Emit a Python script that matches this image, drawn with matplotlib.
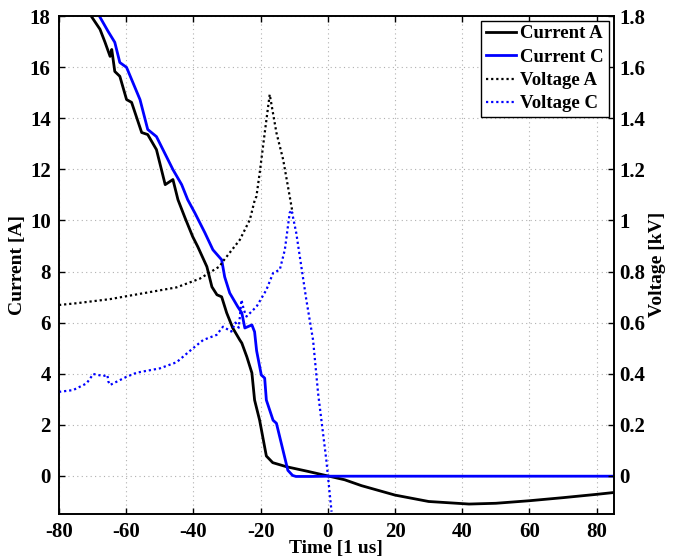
import matplotlib
matplotlib.use("Agg")
import matplotlib.pyplot as plt

plt.rcParams['font.family'] = ['Liberation Serif', 'DejaVu Serif']
plt.rcParams['font.weight'] = 'bold'
plt.rcParams['axes.labelweight'] = 'bold'
plt.rcParams['axes.unicode_minus'] = False

# Current A [A]
ca_t = [-73.0, -70.8, -67.8, -66.3, -64.8, -64.3, -63.4, -61.9, -59.9, -58.4, -55.4, -53.6,
        -51.0, -48.4, -46.1, -44.6, -42.5, -40.2, -38.7, -36.0, -34.5, -33.0, -31.6, -30.1,
        -28.3, -26.2, -25.6, -24.1, -22.6, -21.8, -20.3, -18.3, -16.4, -12.3, -6.0, 0.0,
        5.0, 10.0, 20.0, 30.0, 42.0, 50.0, 60.0, 70.0, 80.0, 85.0]
ca_v = [18.6, 18.07, 17.48, 16.97, 16.42, 16.69, 15.83, 15.64, 14.73, 14.62, 13.44, 13.36,
        12.77, 11.40, 11.60, 10.81, 10.1, 9.36, 8.97, 8.19, 7.40, 7.09, 7.01, 6.38,
        5.79, 5.32, 5.20, 4.66, 4.03, 2.97, 2.18, 0.78, 0.52, 0.36, 0.18, 0.0,
        -0.15, -0.38, -0.75, -1.0, -1.1, -1.07, -0.97, -0.85, -0.72, -0.65]

# Current C [A]
cc_t = [-70.0, -68.3, -65.4, -63.4, -61.9, -59.9, -55.9, -53.6, -51.0, -46.1, -43.5, -41.7,
        -39.6, -36.6, -34.2, -31.6, -30.7, -29.2, -26.8, -25.6, -24.7, -22.6, -21.8, -21.2,
        -19.8, -18.8, -18.3, -16.3, -15.3, -11.9, -10.5, -9.5, -5.0, 0.0, 20.0, 40.0, 60.0, 85.0]
cc_v = [18.6, 18.07, 17.40, 16.97, 16.18, 15.99, 14.73, 13.56, 13.28, 11.99, 11.40, 10.81,
        10.30, 9.52, 8.85, 8.46, 7.79, 7.16, 6.62, 6.38, 5.79, 5.91, 5.64, 4.90,
        3.95, 3.83, 2.97, 2.18, 2.06, 0.22, 0.02, -0.02, -0.02, -0.01, -0.01, -0.01, -0.01, -0.01]

# Voltage A [kV]
va_t = [-80.0, -74.7, -64.8, -54.9, -45.0, -38.1, -32.2, -31.2, -26.2, -23.2, -21.75, -21.25,
        -20.27, -18.78, -17.3, -15.3, -13.3, -11.35, -10.5]
va_v = [0.669, 0.676, 0.692, 0.715, 0.738, 0.772, 0.82, 0.84, 0.924, 1.003, 1.08, 1.094,
        1.187, 1.343, 1.493, 1.343, 1.238, 1.094, 1.03]

# Voltage C [kV]
vc_t = [-80.0, -75.8, -71.8, -69.8, -66.8, -65.6, -65.3, -64.8, -59.9, -56.9, -50.0, -45.0,
        -40.1, -37.1, -33.1, -31.2, -28.7, -27.5, -26.5, -25.7, -25.0, -24.2, -21.2, -18.3,
        -16.3, -14.3, -12.8, -11.35, -10.8, -9.4, -6.4, -4.4, -2.9, -0.45, 1.1]
vc_v = [0.329, 0.336, 0.362, 0.399, 0.391, 0.395, 0.369, 0.356, 0.388, 0.404, 0.421, 0.445,
        0.500, 0.532, 0.552, 0.584, 0.565, 0.60, 0.58, 0.689, 0.65, 0.624, 0.663, 0.728,
        0.794, 0.807, 0.885, 1.03, 1.04, 0.951, 0.689, 0.532, 0.323, 0.062, -0.14]

x_ticks = [-80, -60, -40, -20, 0, 20, 40, 60, 80]
yl_ticks = [0, 2, 4, 6, 8, 10, 12, 14, 16, 18]
yr_ticks = [0, 0.2, 0.4, 0.6, 0.8, 1.0, 1.2, 1.4, 1.6, 1.8]
yr_labels = ['0', '0.2', '0.4', '0.6', '0.8', '1', '1.2', '1.4', '1.6', '1.8']

fig = plt.figure(figsize=(6.81, 5.57), dpi=100)
ax = fig.add_axes([59 / 681, 1 - 513.5 / 557, 554.5 / 681, 497.5 / 557])
ax2 = ax.twinx()

l1, = ax.plot(ca_t, ca_v, color='black', lw=2.0)
l2, = ax.plot(cc_t, cc_v, color='#0000ff', lw=2.0)
l3, = ax2.plot(va_t, va_v, color='black', lw=1.6, linestyle=(0, (1, 1.3)))
l4, = ax2.plot(vc_t, vc_v, color='#0000ff', lw=1.6, linestyle=(0, (1, 1.3)))

ax.set_xlim(-80, 85)
ax.set_ylim(-1.47, 18)
ax2.set_ylim(-0.147, 1.8)

ax.set_xticks(x_ticks)
ax.set_yticks(yl_ticks)
ax2.set_yticks(yr_ticks)
ax2.set_yticklabels(yr_labels)

ax.grid(True, color='#b0b0b0', linestyle=(0, (1, 3)), lw=0.8)

for a in (ax, ax2):
    for s in a.spines.values():
        s.set_linewidth(1.2)
ax.tick_params(direction='in', length=4, width=1, labelsize=15, top=True, right=False, pad=6)
ax2.tick_params(direction='in', length=4, width=1, labelsize=15, pad=4)

ax.set_xlabel('Time [1 us]', fontsize=14, labelpad=-1)
ax.set_ylabel('Current [A]', fontsize=14, labelpad=3)
ax2.set_ylabel('Voltage [kV]', fontsize=14, labelpad=3)

leg = ax2.legend([l1, l2, l3, l4], ['Current A', 'Current C', 'Voltage A', 'Voltage C'],
                 loc='upper right', fontsize=13.5, fancybox=False, framealpha=1,
                 edgecolor='black', borderpad=0.25, labelspacing=0.33, handlelength=1.6,
                 handletextpad=0.25, borderaxespad=0.25)
leg.get_frame().set_linewidth(1.0)

fig.savefig('out.png', dpi=100)
